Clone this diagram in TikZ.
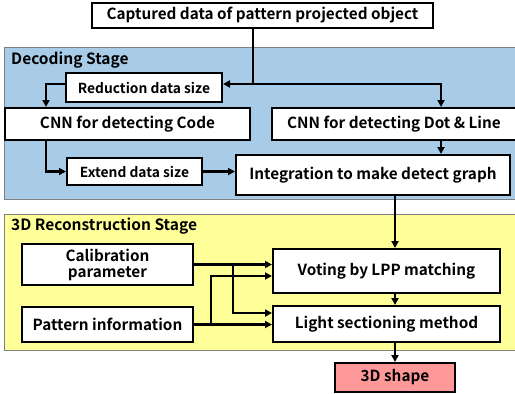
\documentclass[tikz,border=0pt]{standalone}
\usepackage{fontspec}
\setmainfont{Noto Sans CJK JP}[BoldFont={* Bold}]
\usepackage{tikz}
\usetikzlibrary{arrows.meta}

\definecolor{decblue}{HTML}{A8CCE8}
\definecolor{recyellow}{HTML}{FFFF99}
\definecolor{outred}{HTML}{FF9999}

\begin{document}
\begin{tikzpicture}[x=1pt,y=-1pt,
  box/.style={draw=black,line width=2pt,fill=white,inner sep=0pt,align=center,font=\fontsize{15.3}{16}\selectfont\bfseries},
  smallbox/.style={box,font=\fontsize{13.8}{15}\selectfont\bfseries},
  stage/.style={draw=gray,line width=1pt},
  stagelabel/.style={anchor=west,inner sep=0pt,font=\fontsize{15.5}{17}\selectfont\bfseries},
  conn/.style={line width=2.2pt,-{Triangle[length=7pt,width=7pt]}},
  line/.style={line width=2.2pt}]
\useasboundingbox (0,0) rectangle (515,394);

\draw [stage,fill=decblue](4,47) rectangle (522,199);
\draw [stage,fill=recyellow](4,214) rectangle (522,350);
\node [stagelabel] (declabel) at (11,60) {Decoding Stage};
\node [stagelabel] (reclabel) at (11,226) {3D Reconstruction Stage};

\node [box,minimum width=341,minimum height=25] (cap) at (262.5,15.5) {Captured data of pattern projected object};
\node [smallbox,minimum width=156,minimum height=29] (reduc) at (144,87.5) {Reduction data size};
\node [box,minimum width=245,minimum height=32] (code) at (127.5,124) {CNN for detecting Code};
\node [box,minimum width=244,minimum height=32] (dot) at (394,124) {CNN for detecting Dot \& Line};
\node [smallbox,minimum width=135,minimum height=27] (extend) at (134.5,171.5) {Extend data size};
\node [box,minimum width=274,minimum height=40] (integ) at (373,175) {Integration to make detect graph};

\node [box,minimum width=171,minimum height=41] (calib) at (107.5,264.5) {Calibration\\parameter};
\node [box,minimum width=171,minimum height=35] (pat) at (107.5,324.5) {Pattern information};
\node [box,minimum width=227,minimum height=44] (vote) at (386.5,271) {Voting by LPP matching};
\node [box,minimum width=227,minimum height=36] (light) at (386.5,324) {Light sectioning method};
\node [box,fill=outred,minimum width=120,minimum height=29] (shape) at (395,377.5) {3D shape};

% columns of the bends
\coordinate (fork) at (253,84);
\coordinate (lx) at (46,0);
\coordinate (rx) at (441,0);
\coordinate (mx) at (395,0);
\coordinate (cbx) at (233,0);
\coordinate (pbx) at (211,0);

\draw [line](cap.south -| fork)--(fork);
\draw [conn](fork)--(fork -| reduc.east);
\draw [conn](fork) -| (dot.north -| rx);
\draw [conn](fork -| reduc.west) -| (code.north -| lx);
\draw [conn](code.south -| lx) |- (extend.west);
\draw [conn](extend.east)--(extend.east -| integ.west);
\draw [conn](dot.south -| rx)--(integ.north -| rx);
\draw [conn](integ.south -| mx)--(vote.north -| mx);

\draw [conn](calib.east)--(calib.east -| vote.west);
\draw [conn](calib.east -| cbx) |- ([yshift=11pt]light.west);
\draw [conn](pat.east)--(pat.east -| light.west);
\draw [conn](pat.east -| pbx) |- ([yshift=-5pt]vote.west);

\draw [conn](vote.south -| mx)--(light.north -| mx);
\draw [conn](light.south -| mx)--(shape.north -| mx);
\end{tikzpicture}
\end{document}
